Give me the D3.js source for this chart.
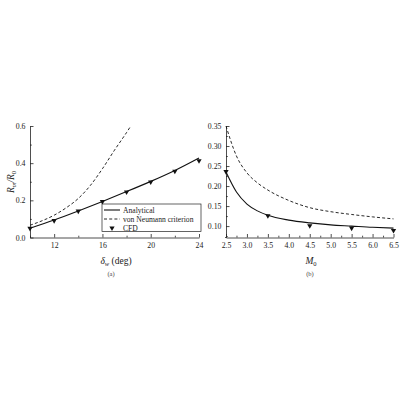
<!DOCTYPE html>
<html>
<head>
<meta charset="utf-8">
<script src="https://cdn.jsdelivr.net/npm/d3@7"></script>
<style>
  body { margin: 0; background: #fff; }
  svg { display: block; font-family: "Liberation Serif", "Times New Roman", serif; }
  .axis path, .axis line { stroke: #222; stroke-width: 0.8; }
  .axis text { font-size: 7.8px; fill: #222; font-family: "Liberation Serif", serif; }
</style>
</head>
<body>
<div id="chart"></div>
<script>
// panel (a): wedge angle vs Mach-stem height
var deltaW = [10, 12, 14, 16, 18, 20, 22, 24];
var analyticalA = [0.050, 0.094, 0.143, 0.194, 0.247, 0.302, 0.361, 0.428];
var vnX = [10, 11, 12, 13, 14, 15, 16, 17, 18, 18.35];
var vnA = [0.066, 0.09, 0.12, 0.16, 0.21, 0.28, 0.37, 0.47, 0.565, 0.6];
var cfdA = [0.049, 0.091, 0.142, 0.193, 0.245, 0.299, 0.357, 0.413];

// panel (b): Mach number
var machX = [2.5, 2.75, 3.0, 3.25, 3.5, 4.0, 4.5, 5.0, 5.5, 6.0, 6.5];
var analyticalB = [0.235, 0.185, 0.155, 0.138, 0.127, 0.115, 0.108, 0.103, 0.1, 0.097, 0.095];
var vnB = [0.35, 0.275, 0.233, 0.208, 0.19, 0.164, 0.146, 0.136, 0.129, 0.123, 0.118];
var cfdX = [2.5, 3.5, 4.5, 5.5, 6.5];
var cfdB = [0.236, 0.126, 0.101, 0.095, 0.089];

var ticksA = [12, 16, 20, 24];
var ticksAy = [0.0, 0.2, 0.4, 0.6];
var ticksB = [2.5, 3.0, 3.5, 4.0, 4.5, 5.0, 5.5, 6.0, 6.5];
var ticksBy = [0.10, 0.15, 0.20, 0.25, 0.30, 0.35];

var legendItems = ["Analytical", "von Neumann criterion", "CFD"];

var svg = d3.select("#chart").append("svg")
    .attr("width", 400).attr("height", 400);

function drawPanel(o) {
    var x = d3.scaleLinear().domain(o.xDomain).range(o.xRange);
    var y = d3.scaleLinear().domain(o.yDomain).range(o.yRange);
    var g = svg.append("g");
    var x0 = o.xRange[0], y0 = o.yRange[0];

    // minor ticks
    g.append("g").attr("class", "axis").attr("transform", "translate(0," + y0 + ")")
        .call(d3.axisBottom(x).tickValues(o.xMinor).tickSize(-1.8).tickFormat(""))
        .select(".domain").remove();
    g.append("g").attr("class", "axis").attr("transform", "translate(" + x0 + ",0)")
        .call(d3.axisLeft(y).tickValues(o.yMinor).tickSize(-1.8).tickFormat(""))
        .select(".domain").remove();

    // major ticks
    g.append("g").attr("class", "axis").attr("transform", "translate(0," + y0 + ")")
        .call(d3.axisBottom(x).tickValues(o.xTicks).tickSizeInner(-3.5).tickSizeOuter(0)
            .tickPadding(4.5).tickFormat(o.xFmt));
    g.append("g").attr("class", "axis").attr("transform", "translate(" + x0 + ",0)")
        .call(d3.axisLeft(y).tickValues(o.yTicks).tickSizeInner(-3.5).tickSizeOuter(0)
            .tickPadding(4.5).tickFormat(o.yFmt));

    var line = d3.line().x(function(d) { return x(d[0]); }).y(function(d) { return y(d[1]); })
        .curve(d3.curveMonotoneX);

    g.append("path").datum(d3.zip(o.vnX, o.vn))
        .attr("d", line).attr("fill", "none").attr("stroke", "#111")
        .attr("stroke-width", 0.9).attr("stroke-dasharray", "3,2.2");
    g.append("path").datum(d3.zip(o.anX, o.an))
        .attr("d", line).attr("fill", "none").attr("stroke", "#111")
        .attr("stroke-width", 1.1);

    var tri = d3.symbol().type(d3.symbolTriangle).size(12);
    g.selectAll(".cfd").data(d3.zip(o.cfdX, o.cfd)).enter().append("path")
        .attr("d", tri)
        .attr("transform", function(d) { return "translate(" + x(d[0]) + "," + y(d[1]) + ") rotate(180)"; })
        .attr("fill", "#111");
    return { x: x, y: y, g: g };
}

var a = drawPanel({
    xDomain: [10, 24], xRange: [30, 199],
    yDomain: [0, 0.6], yRange: [237.5, 126],
    xTicks: ticksA, yTicks: ticksAy,
    xMinor: [10, 14, 18, 22], yMinor: [0.1, 0.3, 0.5],
    xFmt: d3.format("d"), yFmt: d3.format(".1f"),
    anX: deltaW, an: analyticalA, vnX: vnX, vn: vnA, cfdX: deltaW, cfd: cfdA
});

var b = drawPanel({
    xDomain: [2.5, 6.5], xRange: [226, 393.5],
    yDomain: [0.0715, 0.35], yRange: [237.5, 126],
    xTicks: ticksB, yTicks: ticksBy,
    xMinor: d3.range(2.75, 6.5, 0.5), yMinor: [0.075, 0.125, 0.175, 0.225, 0.275, 0.325],
    xFmt: d3.format(".1f"), yFmt: d3.format(".2f"),
    anX: machX, an: analyticalB, vnX: machX, vn: vnB, cfdX: cfdX, cfd: cfdB
});
// right panel y-axis starts just left of 2.5
b.g.append("line").attr("x1", 225).attr("x2", 226).attr("y1", 237.5).attr("y2", 237.5)
    .attr("stroke", "#222").attr("stroke-width", 0.8);

// axis titles
var yl = svg.append("text").attr("transform", "translate(14,182) rotate(-90)")
    .attr("text-anchor", "middle").attr("font-size", 9.5).attr("font-style", "italic").attr("fill", "#222");
yl.append("tspan").text("R");
yl.append("tspan").attr("font-size", 6.5).attr("dy", 2).text("m");
yl.append("tspan").attr("dy", -2).text("/R");
yl.append("tspan").attr("font-size", 6.5).attr("dy", 2).attr("font-style", "normal").text("0");

var xl = svg.append("text").attr("x", 116).attr("y", 264)
    .attr("text-anchor", "middle").attr("font-size", 9.5).attr("fill", "#222");
xl.append("tspan").attr("font-style", "italic").text("δ");
xl.append("tspan").attr("font-size", 6.5).attr("dy", 2).attr("font-style", "italic").text("w");
xl.append("tspan").attr("dy", -2).text(" (deg)");

var ml = svg.append("text").attr("x", 311).attr("y", 264)
    .attr("text-anchor", "middle").attr("font-size", 9.5).attr("fill", "#222");
ml.append("tspan").attr("font-style", "italic").text("M");
ml.append("tspan").attr("font-size", 6.5).attr("dy", 2).text("0");

svg.append("text").attr("x", 111).attr("y", 276).attr("text-anchor", "middle")
    .attr("font-size", 6.5).attr("fill", "#444").text("(a)");
svg.append("text").attr("x", 310).attr("y", 276).attr("text-anchor", "middle")
    .attr("font-size", 6.5).attr("fill", "#444").text("(b)");

// legend
var lg = svg.append("g").attr("transform", "translate(102,204)");
lg.append("rect").attr("width", 99).attr("height", 27.5)
    .attr("fill", "#fff").attr("stroke", "#222").attr("stroke-width", 0.7);
var rows = lg.selectAll(".row").data(legendItems).enter().append("g")
    .attr("transform", function(d, i) { return "translate(0," + (6 + i * 9) + ")"; });
rows.filter(function(d, i) { return i === 0; }).append("line")
    .attr("x1", 2).attr("x2", 18).attr("stroke", "#111").attr("stroke-width", 1.1);
rows.filter(function(d, i) { return i === 1; }).append("line")
    .attr("x1", 2).attr("x2", 18).attr("stroke", "#111").attr("stroke-width", 0.9)
    .attr("stroke-dasharray", "3,2.2");
rows.filter(function(d, i) { return i === 2; }).append("path")
    .attr("d", d3.symbol().type(d3.symbolTriangle).size(12))
    .attr("transform", "translate(10,0) rotate(180)").attr("fill", "#111");
rows.append("text").attr("x", 21).attr("y", 2.7).attr("font-size", 7.6).attr("fill", "#222")
    .text(function(d) { return d; });
</script>
</body>
</html>
